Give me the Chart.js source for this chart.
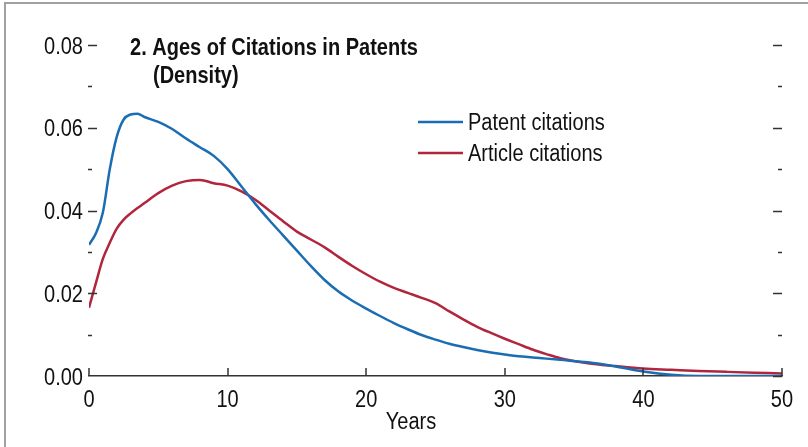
<!DOCTYPE html>
<html>
<head>
<meta charset="utf-8">
<script src="https://cdn.jsdelivr.net/npm/chart.js@4/dist/chart.umd.min.js"></script>
<style>
	html, body { margin: 0; padding: 0; background: #fff; }
	.chart { width: 808px; height: 447px; }
</style>
</head>
<body>
<div class="chart"><canvas class="chart__canvas"></canvas></div>
<script>
const years = [0, 0.5, 1, 1.5, 2, 2.5, 3, 3.5, 4, 5, 6, 7, 8, 9, 10, 11, 12, 13, 14, 15, 16, 17, 18, 19, 20,
	21, 22, 23, 24, 25, 26, 27, 28, 29, 30, 31, 32, 33, 34, 36, 38, 40, 42, 44, 46, 48, 50];
const patentCitations = [0.0317, 0.0345, 0.0395, 0.05, 0.0578, 0.062, 0.0632, 0.0634, 0.0626, 0.0614, 0.0597,
	0.0574, 0.0553, 0.0532, 0.05, 0.0458, 0.0416, 0.0377, 0.034, 0.0303, 0.0266, 0.0232, 0.0204, 0.0182, 0.0163,
	0.0145, 0.0128, 0.0113, 0.0099, 0.0088, 0.0078, 0.007, 0.0063, 0.0057, 0.0052, 0.0048, 0.0045, 0.0042, 0.0039,
	0.0033, 0.0023, 0.0011, 0.0003, 0, 0, 0, 0];
const articleCitations = [0.0165, 0.0225, 0.0283, 0.0322, 0.0356, 0.0378, 0.0393, 0.0406, 0.0418, 0.0442, 0.046,
	0.0471, 0.0474, 0.0466, 0.046, 0.0446, 0.0426, 0.04, 0.0374, 0.0349, 0.033, 0.0311, 0.0288, 0.0266, 0.0246,
	0.0228, 0.0213, 0.0201, 0.0189, 0.0176, 0.0156, 0.0137, 0.0119, 0.0104, 0.009, 0.0077, 0.0064, 0.0053, 0.0043,
	0.0031, 0.0024, 0.0018, 0.0015, 0.0012, 0.001, 0.0008, 0.0006];
const seriesNames = ["Patent citations", "Article citations"];
const xTicks = [0, 10, 20, 30, 40, 50];
const yTicks = [0, 0.02, 0.04, 0.06, 0.08];
const yMinorTicks = [0.01, 0.03, 0.05, 0.07];
const titleLines = ["2. Ages of Citations in Patents", "(Density)"];
const xTitle = "Years";

const FONT = "'Liberation Sans', Arial, sans-serif";
const NARROW = 0.87;
const blue = "#1a6db3";
const red = "#b0263d";

function toPoints(values) {
	return values.map((v, i) => ({ x: years[i], y: v }));
}

// narrow text, like the condensed face of the original
function narrowText(ctx, text, x, y, align, font) {
	ctx.save();
	ctx.font = font;
	ctx.textAlign = align;
	ctx.translate(x, y);
	ctx.scale(NARROW, 1);
	ctx.fillText(text, 0, 0);
	ctx.restore();
}

// frame, tick marks, labels, title, legend and axis title
const decorations = {
	id: "decorations",
	beforeDraw(chart) {
		const ctx = chart.ctx;
		ctx.save();
		ctx.strokeStyle = "#a0a0a0";
		ctx.lineWidth = 2;
		ctx.beginPath();
		ctx.moveTo(5, 447);
		ctx.lineTo(5, 3);
		ctx.lineTo(808, 3);
		ctx.stroke();
		ctx.restore();
	},
	afterDraw(chart) {
		const ctx = chart.ctx;
		const x = chart.scales.x;
		const y = chart.scales.y;
		const area = chart.chartArea;
		const font = "23px " + FONT;
		ctx.save();
		ctx.strokeStyle = "#333";
		ctx.lineWidth = 1.5;
		ctx.beginPath();
		x.ticks.forEach((t) => {
			const px = Math.round(x.getPixelForValue(t.value));
			ctx.moveTo(px, area.bottom);
			ctx.lineTo(px, area.bottom - 8);
		});
		y.ticks.forEach((t) => {
			const py = Math.round(y.getPixelForValue(t.value)) + 0.5;
			if (t.value > 0) {
				ctx.moveTo(area.left - 1, py);
				ctx.lineTo(area.left + 8, py);
			}
			ctx.moveTo(area.right, py);
			ctx.lineTo(area.right - 9, py);
		});
		yMinorTicks.forEach((t) => {
			const py = Math.round(y.getPixelForValue(t)) + 0.5;
			ctx.moveTo(area.left - 1, py);
			ctx.lineTo(area.left + 3, py);
			ctx.moveTo(area.right, py);
			ctx.lineTo(area.right - 4, py);
		});
		ctx.stroke();

		ctx.fillStyle = "#111";
		ctx.textBaseline = "alphabetic";
		x.ticks.forEach((t) => {
			narrowText(ctx, String(t.value), x.getPixelForValue(t.value), 407, "center", font);
		});
		y.ticks.forEach((t) => {
			narrowText(ctx, t.value.toFixed(2), area.left - 6, y.getPixelForValue(t.value) + 8.5, "right", font);
		});

		narrowText(ctx, titleLines[0], 130, 55, "left", "bold " + font);
		narrowText(ctx, titleLines[1], 153, 83, "left", "bold " + font);

		const colors = [blue, red];
		seriesNames.forEach((name, i) => {
			const ly = 122 + i * 31;
			ctx.strokeStyle = colors[i];
			ctx.lineWidth = 2.5;
			ctx.beginPath();
			ctx.moveTo(418, ly);
			ctx.lineTo(463, ly);
			ctx.stroke();
			narrowText(ctx, name, 468, ly + 7.5, "left", font);
		});

		narrowText(ctx, xTitle, 411, 429, "center", font);
		ctx.restore();
	},
};

const config = {
	type: "line",
	data: {
		datasets: [
			{ label: seriesNames[0], data: toPoints(patentCitations), borderColor: blue },
			{ label: seriesNames[1], data: toPoints(articleCitations), borderColor: red },
		],
	},
	options: {
		responsive: false,
		animation: false,
		layout: { padding: { top: 45, right: 26, left: 0, bottom: 0 } },
		elements: {
			point: { radius: 0 },
			line: { borderWidth: 2.5, cubicInterpolationMode: "monotone", fill: false },
		},
		plugins: {
			legend: { display: false },
			tooltip: { enabled: false },
		},
		scales: {
			x: {
				type: "linear",
				min: 0,
				max: 50,
				afterFit: (scale) => { scale.height = 71; },
				afterBuildTicks: (scale) => { scale.ticks = xTicks.map((v) => ({ value: v })); },
				grid: { display: false, drawTicks: false },
				border: { display: true, color: "#333", width: 1.5 },
				ticks: { display: false },
			},
			y: {
				min: 0,
				max: 0.08,
				afterFit: (scale) => { scale.width = 89; },
				afterBuildTicks: (scale) => { scale.ticks = yTicks.map((v) => ({ value: v })); },
				grid: { display: false, drawTicks: false },
				border: { display: false },
				ticks: { display: false },
			},
		},
	},
	plugins: [decorations],
};

const canvas = document.querySelector(".chart__canvas");
canvas.width = 808;
canvas.height = 447;
new Chart(canvas, config);
</script>
</body>
</html>
